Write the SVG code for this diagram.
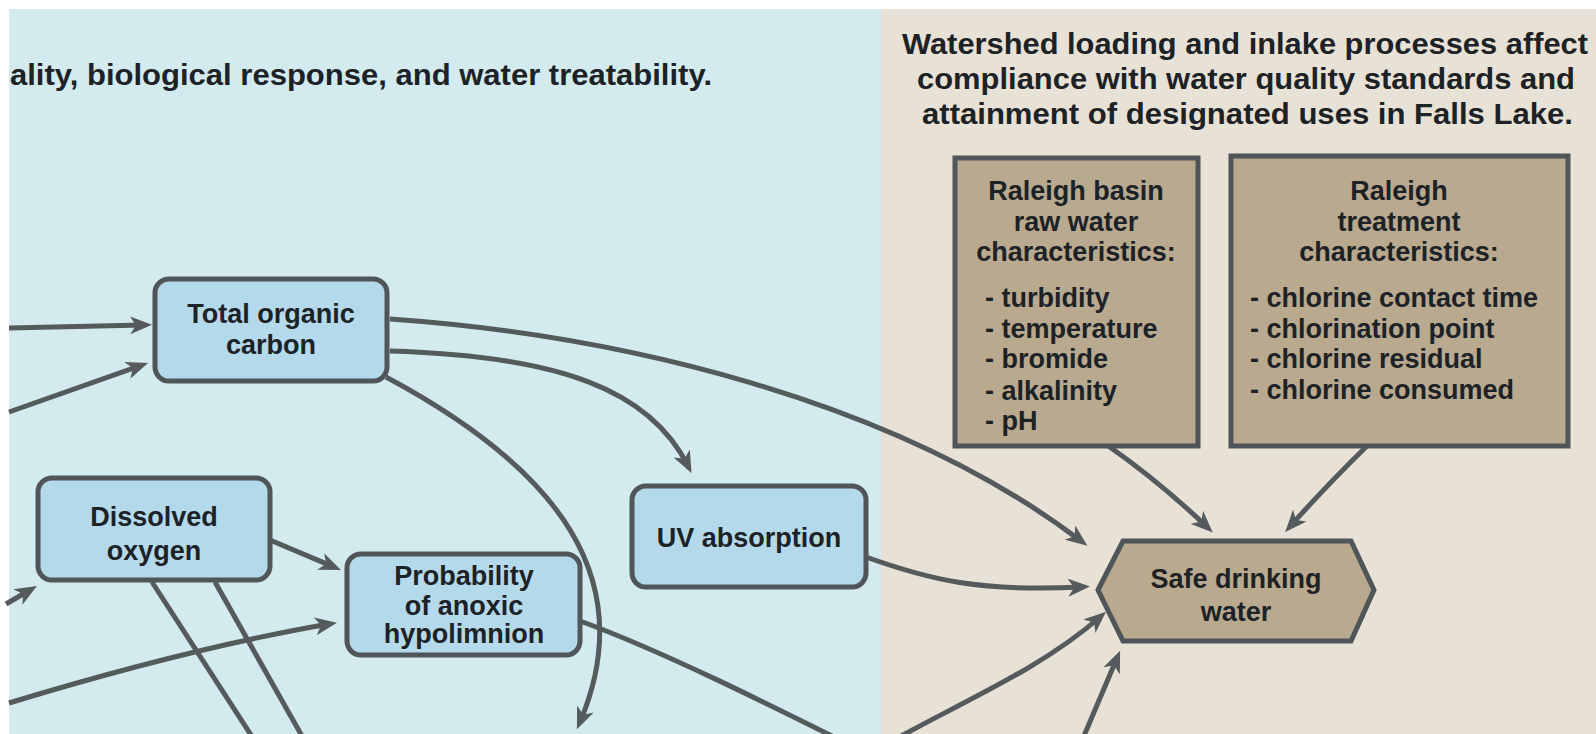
<svg xmlns="http://www.w3.org/2000/svg" width="1596" height="734" viewBox="0 0 1596 734">
  <style>
    .title { font-family: "Liberation Sans", Arial, sans-serif; font-weight: bold; font-size: 30px; fill: #1d2226; }
    .label { font-family: "Liberation Sans", Arial, sans-serif; font-weight: bold; font-size: 27px; fill: #1d2226; }
    .mid { text-anchor: middle; }
    .blue { fill: #b4d9eb; stroke: #4f5559; stroke-width: 5; }
    .tan { fill: #b8a98f; stroke: #4f5559; stroke-width: 5; }
    .link { fill: none; stroke: #555a5d; stroke-width: 5; }
    .arrow { marker-end: url(#head); }
  </style>
  <defs>
    <marker id="head" markerUnits="userSpaceOnUse" markerWidth="22" markerHeight="18" viewBox="0 0 22 18" refX="14" refY="9" orient="auto">
      <path d="M0,0 L22,9 L0,18 L6,9 Z" fill="#555a5d"/>
    </marker>
  </defs>

  <!-- backgrounds -->
  <rect x="0" y="0" width="1596" height="734" fill="#ffffff"/>
  <rect x="9" y="9" width="872" height="725" fill="#d3ebee"/>
  <rect x="881" y="9" width="715" height="725" fill="#e8e1d5"/>

  <!-- headings -->
  <g id="heading-left">
    <text class="title" x="10" y="85" textLength="702" lengthAdjust="spacingAndGlyphs">ality, biological response, and water treatability.</text>
  </g>
  <g id="heading-right">
    <text class="title" x="902" y="54" textLength="686" lengthAdjust="spacingAndGlyphs">Watershed loading and inlake processes affect</text>
    <text class="title" x="917" y="89" textLength="658" lengthAdjust="spacingAndGlyphs">compliance with water quality standards and</text>
    <text class="title" x="922" y="124" textLength="651" lengthAdjust="spacingAndGlyphs">attainment of designated uses in Falls Lake.</text>
  </g>

  <!-- connectors -->
  <g id="connectors">
    <path class="link arrow" d="M9,328 L144,325"/>
    <path class="link arrow" d="M9,412 L140.5,365.7"/>
    <path class="link arrow" d="M390,319 C620,335 895,400 1081,541"/>
    <path class="link arrow" d="M390,351 C560,356 650,390 688,466"/>
    <path class="link arrow" d="M386,377 C560,470 640,580 580,722"/>
    <path class="link arrow" d="M866,557 C930,580 980,592 1082,587"/>
    <path class="link arrow" d="M270,540 L333.6,566.9"/>
    <path class="link arrow" d="M6,604 L30,590"/>
    <path class="link arrow" d="M9,703 Q190,648 329,624"/>
    <path class="link" d="M152,582 L262,752"/>
    <path class="link" d="M215,582 L311,752"/>
    <path class="link" d="M580,621 C660,650 770,705 850,745"/>
    <path class="link arrow" d="M885,745 C955,705 1040,670 1100,617"/>
    <path class="link arrow" d="M1078,750 L1117,658"/>
    <path class="link arrow" d="M1107,445 Q1160,482 1207,527"/>
    <path class="link arrow" d="M1368,445 Q1326,486 1290.5,526"/>
  </g>

  <!-- nodes -->
  <g id="total-organic-carbon">
    <rect class="blue" x="155" y="279" width="232" height="102" rx="14"/>
    <text class="label mid" x="271" y="323">Total organic</text>
    <text class="label mid" x="271" y="354">carbon</text>
  </g>
  <g id="dissolved-oxygen">
    <rect class="blue" x="38" y="478" width="232" height="102" rx="14"/>
    <text class="label mid" x="154" y="526">Dissolved</text>
    <text class="label mid" x="154" y="560">oxygen</text>
  </g>
  <g id="anoxic-hypolimnion">
    <rect class="blue" x="347" y="554" width="233" height="101" rx="14"/>
    <text class="label mid" x="464" y="585">Probability</text>
    <text class="label mid" x="464" y="615">of anoxic</text>
    <text class="label mid" x="464" y="643">hypolimnion</text>
  </g>
  <g id="uv-absorption">
    <rect class="blue" x="632" y="486" width="234" height="101" rx="14"/>
    <text class="label mid" x="749" y="547">UV absorption</text>
  </g>
  <g id="raw-water">
    <rect class="tan" x="955" y="158" width="243" height="288"/>
    <text class="label mid" x="1076" y="200">Raleigh basin</text>
    <text class="label mid" x="1076" y="231">raw water</text>
    <text class="label mid" x="1076" y="261">characteristics:</text>
    <text class="label" x="985" y="307">- turbidity</text>
    <text class="label" x="985" y="338">- temperature</text>
    <text class="label" x="985" y="368">- bromide</text>
    <text class="label" x="985" y="400">- alkalinity</text>
    <text class="label" x="985" y="430">- pH</text>
  </g>
  <g id="treatment">
    <rect class="tan" x="1231" y="156" width="337" height="290"/>
    <text class="label mid" x="1399" y="200">Raleigh</text>
    <text class="label mid" x="1399" y="231">treatment</text>
    <text class="label mid" x="1399" y="261">characteristics:</text>
    <text class="label" x="1250" y="307">- chlorine contact time</text>
    <text class="label" x="1250" y="338">- chlorination point</text>
    <text class="label" x="1250" y="368">- chlorine residual</text>
    <text class="label" x="1250" y="399">- chlorine consumed</text>
  </g>
  <g id="safe-drinking-water">
    <polygon class="tan" points="1098,590 1123,541 1351,541 1374,590 1351,641 1123,641"/>
    <text class="label mid" x="1236" y="588">Safe drinking</text>
    <text class="label mid" x="1236" y="621">water</text>
  </g>
</svg>
